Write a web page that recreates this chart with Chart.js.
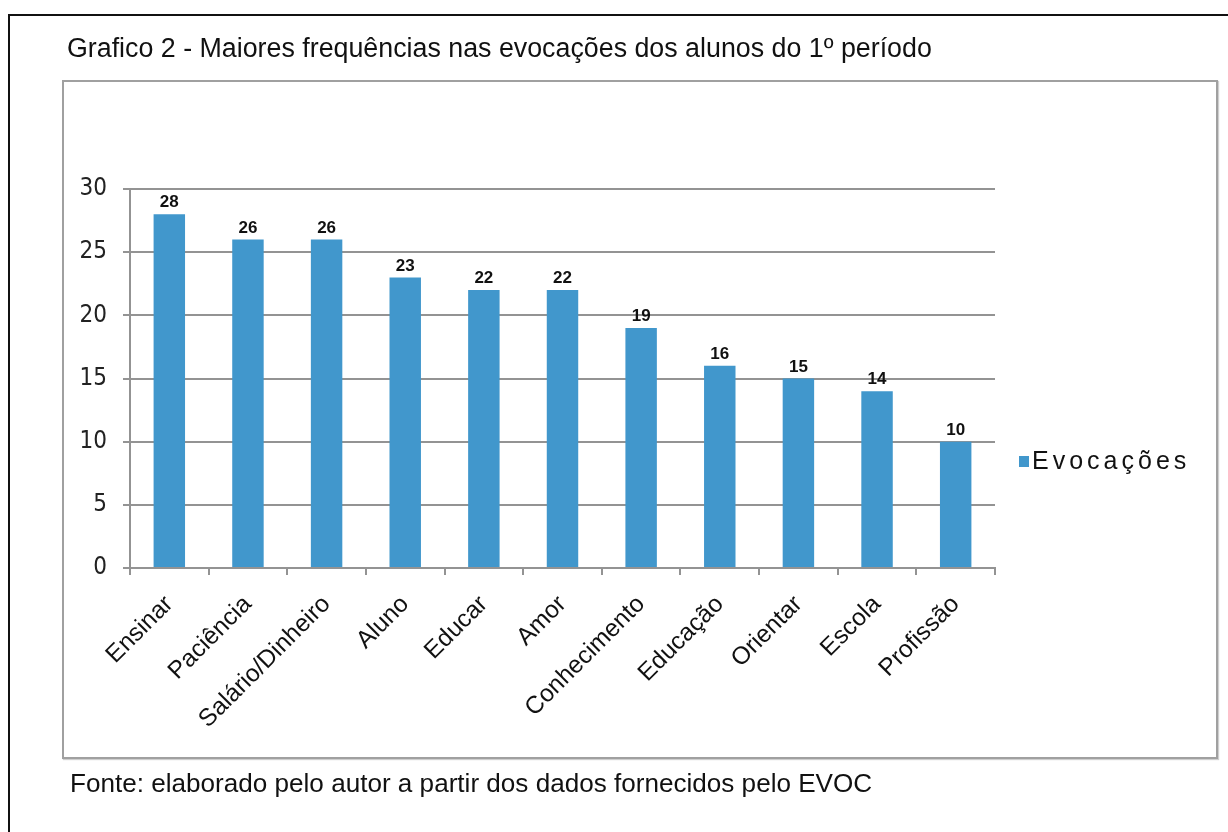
<!DOCTYPE html>
<html lang="pt">
<head>
<meta charset="utf-8">
<title>Grafico 2 - Maiores frequências nas evocações</title>
<script src="https://cdn.jsdelivr.net/npm/chart.js@4.4.1/dist/chart.umd.min.js"></script>
<style>
  html, body { margin: 0; padding: 0; background: #fff; }
  #wrap { position: relative; width: 1228px; height: 832px; overflow: hidden; }
  #frame { position: absolute; left: 8px; top: 14px; width: 1300px; height: 900px;
           border-left: 2px solid #111; border-top: 2px solid #111; }
  #box { position: absolute; left: 62px; top: 80px; width: 1152px; height: 675px;
         border: 2px solid #a0a0a0; box-shadow: 1px 1px 1px #cfcfcf; }
  #chart { position: absolute; left: 0; top: 0; }
  .txt { position: absolute; font-family: "Liberation Sans", Arial, sans-serif;
         color: #111; white-space: nowrap; line-height: 1; }
  #title { left: 67px; top: 35px; font-size: 26.8px; }
  #fonte { left: 70px; top: 770px; font-size: 26.1px; }
</style>
</head>
<body>
<div id="wrap">
  <div id="frame"></div>
  <div id="box"></div>
  <canvas id="chart" width="1228" height="832"></canvas>
  <div class="txt" id="title">Grafico 2 - Maiores frequências nas evocações dos alunos do 1º período</div>
  <div class="txt" id="fonte">Fonte: elaborado pelo autor a partir dos dados fornecidos pelo EVOC</div>
</div>
<script>
// categorias e valores
const categorias = ["Ensinar", "Paciência", "Salário/Dinheiro", "Aluno", "Educar", "Amor",
  "Conhecimento", "Educação", "Orientar", "Escola", "Profissão"];
const evocacoes = [28, 26, 26, 23, 22, 22, 19, 16, 15, 14, 10];
const nomeSerie = "Evocações";
const yTicks = [0, 5, 10, 15, 20, 25, 30];

const corBarra = "#4197cc";
const corGrade = "#939393";

// rótulos em negrito acima das barras
const rotulosPlugin = {
  id: 'rotulos',
  afterDatasetsDraw(chart) {
    const ctx = chart.ctx;
    const meta = chart.getDatasetMeta(0);
    ctx.save();
    ctx.font = 'bold 17px "Liberation Sans", Arial, sans-serif';
    ctx.fillStyle = '#111';
    ctx.textAlign = 'center';
    ctx.textBaseline = 'bottom';
    meta.data.forEach((bar, i) => {
      ctx.fillText(String(evocacoes[i]), bar.x, bar.y - 3);
    });
    ctx.restore();
  }
};

// legenda à direita (quadrado + texto espaçado)
const legendaPlugin = {
  id: 'legenda',
  afterDraw(chart) {
    const ctx = chart.ctx;
    const area = chart.chartArea;
    const x = area.right + 24;
    const y = 461;
    ctx.save();
    ctx.fillStyle = corBarra;
    ctx.fillRect(x, y - 5, 10, 11);
    ctx.font = '25px "Liberation Sans", Arial, sans-serif';
    ctx.letterSpacing = '4px';
    ctx.fillStyle = '#111';
    ctx.textAlign = 'left';
    ctx.textBaseline = 'middle';
    ctx.fillText(nomeSerie, x + 13, y + 1);
    ctx.restore();
  }
};

const ctx = document.getElementById('chart').getContext('2d');
new Chart(ctx, {
  type: 'bar',
  data: {
    labels: categorias,
    datasets: [{
      label: nomeSerie,
      data: evocacoes,
      backgroundColor: corBarra,
      borderWidth: 0,
      barPercentage: 0.4,
      categoryPercentage: 1.0
    }]
  },
  options: {
    responsive: false,
    animation: false,
    layout: { padding: { left: 60, right: 233, top: 189, bottom: 0 } },
    plugins: {
      legend: { display: false },
      tooltip: { enabled: false }
    },
    scales: {
      x: {
        offset: true,
        grid: { offset: true, drawOnChartArea: false, drawTicks: true, tickLength: 7, color: corGrade, lineWidth: 2 },
        border: { color: corGrade, width: 2 },
        ticks: {
          minRotation: 45, maxRotation: 45, autoSkip: false, padding: 15,
          color: '#111',
          font: { family: '"Liberation Sans", Arial, sans-serif', size: 24.5 }
        },
        afterFit(scale) { scale.height = 264; }
      },
      y: {
        min: 0, max: 30,
        afterBuildTicks(scale) { scale.ticks = yTicks.map(v => ({ value: v })); },
        grid: { color: corGrade, lineWidth: 2, tickLength: 7 },
        border: { color: corGrade, width: 2 },
        ticks: {
          padding: 16,
          color: '#222',
          font: { family: '"DejaVu Sans Condensed", "Liberation Sans Narrow", sans-serif', size: 24 }
        },
        afterFit(scale) { scale.width = 70; }
      }
    }
  },
  plugins: [rotulosPlugin, legendaPlugin]
});
</script>
</body>
</html>
